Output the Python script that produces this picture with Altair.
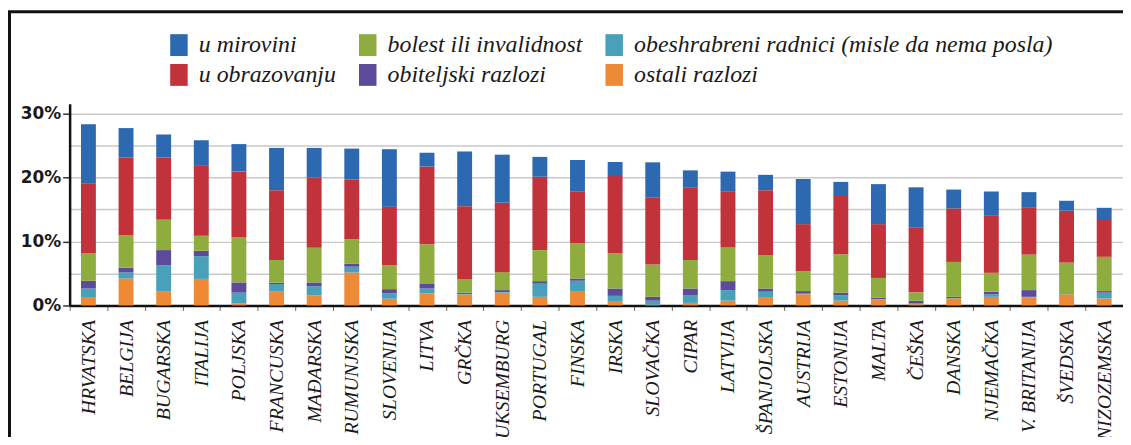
import altair as alt
import pandas as pd

countries = ["HRVATSKA", "BELGIJA", "BUGARSKA", "ITALIJA", "POLJSKA", "FRANCUSKA",
             "MAĐARSKA", "RUMUNJSKA", "SLOVENIJA", "LITVA", "GRČKA", "LUKSEMBURG",
             "PORTUGAL", "FINSKA", "IRSKA", "SLOVAČKA", "CIPAR", "LATVIJA",
             "ŠPANJOLSKA", "AUSTRIJA", "ESTONIJA", "MALTA", "ČEŠKA", "DANSKA",
             "NJEMAČKA", "V. BRITANIJA", "ŠVEDSKA", "NIZOZEMSKA"]

ostali = [1.2, 4.2, 2.15, 4.15, 0.3, 2.25, 1.55, 5.15, 1.05, 1.9, 1.7, 2.0, 1.35, 2.15,
          0.7, 0.1, 0.4, 0.75, 1.2, 1.75, 0.75, 0.95, 0.2, 1.1, 1.35, 1.25, 1.75, 1.1]
obeshrabreni = [1.45, 0.95, 4.1, 3.55, 1.7, 1.1, 1.45, 0.9, 0.85, 0.75, 0.1, 0.1, 2.05, 1.7,
                0.8, 0.65, 1.15, 1.65, 0.95, 0.1, 0.85, 0.05, 0.15, 0.05, 0.4, 0.1, 0.05, 0.9]
obiteljski = [1.2, 0.75, 2.4, 0.85, 1.6, 0.2, 0.6, 0.5, 0.65, 0.8, 0.2, 0.3, 0.4, 0.35,
              1.15, 0.6, 1.1, 1.4, 0.5, 0.4, 0.4, 0.2, 0.4, 0.2, 0.4, 1.05, 0.1, 0.25]
bolest = [4.25, 5.1, 4.75, 2.35, 7.1, 3.55, 5.4, 3.8, 3.75, 6.1, 2.15, 2.8, 4.85, 5.5,
          5.45, 5.05, 4.45, 5.25, 5.2, 3.1, 6.0, 3.1, 1.3, 5.45, 2.95, 5.55, 4.8, 5.35]
obrazovanje = [10.9, 12.1, 9.7, 10.9, 10.2, 10.9, 10.95, 9.35, 9.1, 12.15, 11.35, 10.85, 11.45, 8.05,
               12.1, 10.5, 11.35, 8.7, 10.15, 7.35, 9.25, 8.4, 10.15, 8.35, 9.0, 7.3, 8.1, 5.9]
mirovina = [9.3, 4.6, 3.6, 4.0, 4.3, 6.6, 4.65, 4.8, 9.0, 2.15, 8.55, 7.5, 3.1, 4.95,
            2.2, 5.45, 2.65, 3.15, 2.4, 7.05, 2.05, 6.25, 6.25, 2.95, 3.7, 2.45, 1.55, 1.75]

# stacking order bottom -> top
stack_series = [
    ("ostali razlozi", ostali),
    ("obeshrabreni radnici (misle da nema posla)", obeshrabreni),
    ("obiteljski razlozi", obiteljski),
    ("bolest ili invalidnost", bolest),
    ("u obrazovanju", obrazovanje),
    ("u mirovini", mirovina),
]

# legend order (column-major, 3 columns x 2 rows)
legend_order = ["u mirovini", "u obrazovanju",
                "bolest ili invalidnost", "obiteljski razlozi",
                "obeshrabreni radnici (misle da nema posla)", "ostali razlozi"]
legend_colors = ["#2d69b1", "#c1323a", "#8fad3f", "#5c4b9b", "#49a1b9", "#ee8a35"]

y_ticks = [0, 5, 10, 15, 20, 25, 30]

rows = []
for k, (name, vals) in enumerate(stack_series):
    for c, v in zip(countries, vals):
        rows.append({"zemlja": c, "razlog": name, "udio": v, "red": k})
df = pd.DataFrame(rows)

W = 1060
H = 203

bars = alt.Chart(df).mark_bar(size=15).encode(
    x=alt.X("zemlja:N", sort=countries, title=None,
            scale=alt.Scale(paddingInner=0, paddingOuter=0),
            axis=alt.Axis(labelAngle=-90, labelFont="Liberation Serif", labelFontStyle="italic",
                          labelFontSize=20, labelColor="#1a1a1a", labelPadding=9,
                          labelLimit=0, domainColor="#111", domainWidth=2.5,
                          tickBand="extent", tickColor="#666", tickSize=5, tickWidth=1,
                          grid=False)),
    y=alt.Y("udio:Q", stack="zero", title=None,
            scale=alt.Scale(domain=[0, 31.5], nice=False),
            axis=alt.Axis(values=y_ticks,
                          labelExpr="datum.value % 10 === 0 ? datum.value + '%' : ''",
                          labelFont="DejaVu Sans", labelFontWeight="bold", labelFontSize=17,
                          labelColor="#1a1a1a", labelPadding=2,
                          domainColor="#111", domainWidth=2.5,
                          tickSize=7, tickWidth=1.5,
                          tickColor={"condition": {"test": "datum.value % 10 === 0", "value": "#333"},
                                     "value": "transparent"},
                          gridColor="#c9c9c9", gridWidth=1.5)),
    color=alt.Color("razlog:N",
                    scale=alt.Scale(domain=legend_order, range=legend_colors),
                    legend=alt.Legend(orient="none", legendX=98, legendY=-71, columns=3,
                                      title=None, columnPadding=20, rowPadding=6,
                                      symbolType="M-0.8,-1H0.8V1H-0.8Z", symbolSize=484,
                                      symbolStrokeWidth=0, symbolOpacity=1,
                                      labelFont="Liberation Serif", labelFontStyle="italic",
                                      labelFontSize=24, labelColor="#1a1a1a",
                                      labelOffset=8, labelLimit=0, padding=0)),
    order=alt.Order("red:Q", sort="ascending"),
)

frame_df = pd.DataFrame({"k": [0]})
frame_top = alt.Chart(frame_df).mark_rule(color="#111", strokeWidth=3).encode(
    x=alt.value(-62), x2=alt.value(W + 10), y=alt.value(-92.5))
frame_left = alt.Chart(frame_df).mark_rule(color="#111", strokeWidth=3).encode(
    x=alt.value(-60.5), y=alt.value(-92.5), y2=alt.value(H + 140))

chart = alt.layer(bars, frame_top, frame_left).properties(
    width=W, height=H,
    autosize=alt.AutoSizeParams(type="none"),
    padding={"left": 62, "top": 95, "right": 0, "bottom": 131},
    background="white",
).configure_view(stroke=None)

chart.save("out.html", embed_options={"renderer": "svg", "actions": False})
